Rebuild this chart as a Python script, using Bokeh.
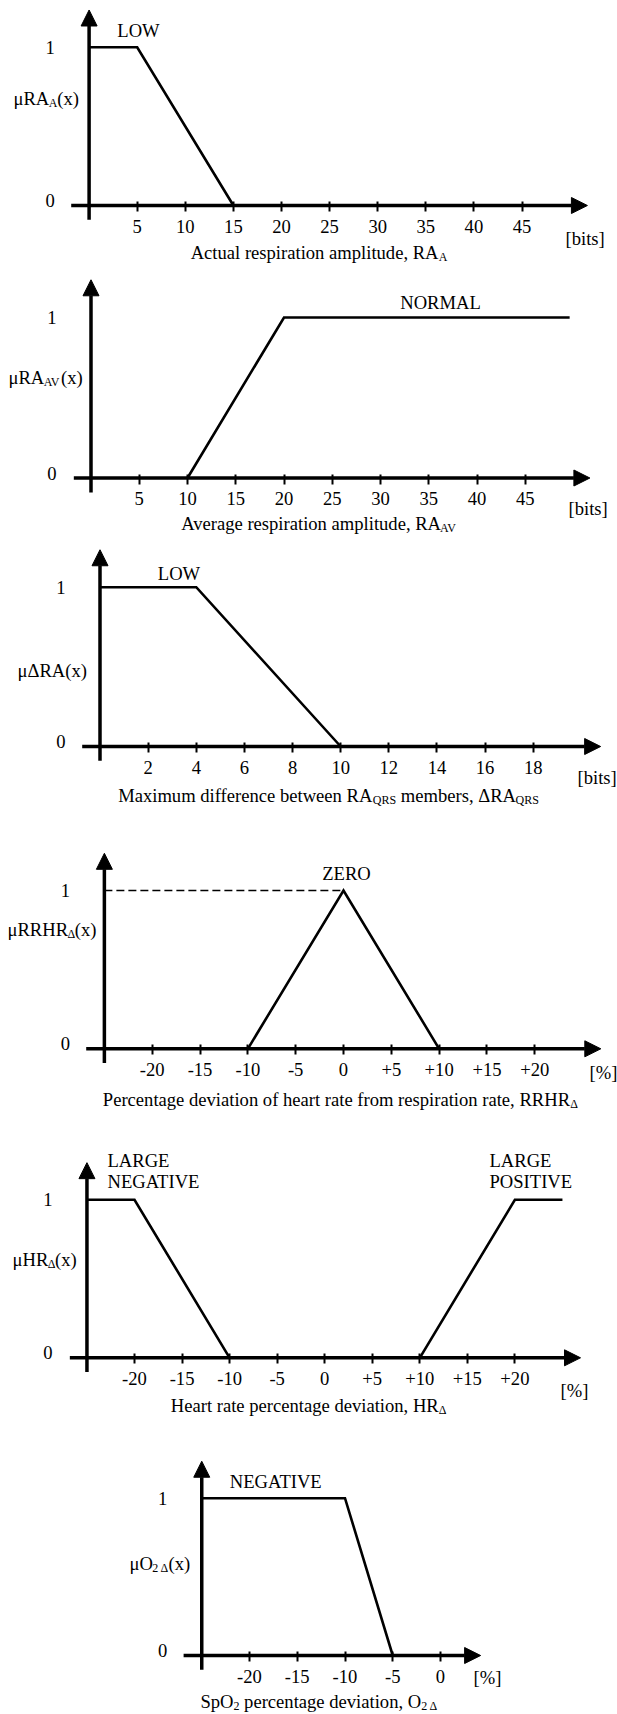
from bokeh.plotting import figure
from bokeh.models import Range1d, LinearAxis, FixedTicker, Arrow, NormalHead, Label, Grid
from bokeh.layouts import column
from bokeh.embed import file_html
from bokeh.resources import INLINE

FONT = "Liberation Serif"
FS = 18.6
SUB_FS = 12.0
W = 617
OX = 0  # page offset of the layout
BASE_OFF = 0.0

# ---------------- data ----------------
ra_a_x = [0, 5, 15]
ra_a_mu = [1, 1, 0]
ra_a_ticks = [5, 10, 15, 20, 25, 30, 35, 40, 45]

ra_av_x = [10, 20, 49.6]
ra_av_mu = [0, 1, 1]
ra_av_ticks = [5, 10, 15, 20, 25, 30, 35, 40, 45]

dra_x = [0, 4, 10]
dra_mu = [1, 1, 0]
dra_ticks = [2, 4, 6, 8, 10, 12, 14, 16, 18]

rrhr_x = [-10, 0, 10]
rrhr_mu = [0, 1, 0]
rrhr_ref_x = [-25, 0]
rrhr_ref_mu = [1, 1]

pct_ticks = [-20, -15, -10, -5, 0, 5, 10, 15, 20]
pct_labels = ["-20", "-15", "-10", "-5", "0", "+5", "+10", "+15", "+20"]

hr_neg_x = [-25, -20, -10]
hr_neg_mu = [1, 1, 0]
hr_pos_x = [10, 20, 25]
hr_pos_mu = [0, 1, 1]

o2_x = [-25, -10, -5]
o2_mu = [1, 1, 0]
o2_ticks = [-20, -15, -10, -5, 0]
o2_labels = ["-20", "-15", "-10", "-5", "0"]

# Times-compatible advance widths (per 1000 em)
WID = {" ": 250, ",": 250, "(": 333, ")": 333, "[": 333, "]": 333, "%": 833,
       "+": 564, "-": 333, "μ": 500, "Δ": 612}
for c in "0123456789":
    WID[c] = 500
WID.update(dict(zip("ABCDEFGHIJKLMNOPQRSTUVWXYZ",
                    [722, 667, 667, 722, 611, 556, 722, 722, 333, 389, 722, 611, 889,
                     722, 722, 556, 722, 667, 556, 611, 722, 722, 944, 722, 722, 611])))
WID.update(dict(zip("abcdefghijklmnopqrstuvwxyz",
                    [444, 500, 444, 500, 444, 333, 500, 500, 278, 278, 500, 278, 778,
                     500, 500, 500, 500, 333, 389, 278, 500, 500, 722, 500, 500, 444])))


def tw(t, fs):
    return sum(WID.get(c, 500) for c in t) * fs / 1000.0


class Panel:
    def __init__(self, top, height, x0p, xs, y0p, y1p):
        self.top, self.height, self.x0p, self.xs, self.y0p = top, height, x0p, xs, y0p
        self.ys = y0p - y1p
        self.xstart = -(x0p - OX) / xs
        self.xend = self.xstart + W / xs
        self.yend = (y0p - top) / self.ys
        self.ystart = self.yend - height / self.ys
        p = figure(width=W, height=height,
                   x_range=Range1d(self.xstart, self.xend),
                   y_range=Range1d(self.ystart, self.yend),
                   x_axis_location=None, y_axis_location=None,
                   toolbar_location=None, output_backend="svg",
                   min_border=0, outline_line_color=None, title_location=None)
        p.background_fill_color = "white"
        p.border_fill_color = "white"
        for g in p.select(type=Grid):
            g.visible = False
        p.center = [r for r in p.center if not isinstance(r, Grid)]
        self.p = p

    def d(self, px, py):
        return self.xstart + (px - OX) / self.xs, self.yend - (py - self.top) / self.ys

    def text(self, parts, px, py, align="left", sub_kern=0.0):
        if isinstance(parts, str):
            parts = [(parts, False)]
        widths = [tw(t, SUB_FS if s else FS) for t, s in parts]
        x = px - (sum(widths) / 2 if align == "center" else 0)
        for (t, s), w in zip(parts, widths):
            fs = SUB_FS if s else FS
            lead = len(t) - len(t.lstrip(" "))
            xs = x + tw(" " * lead, fs) + (sub_kern if s else 0.0)
            by = py + BASE_OFF + (4.0 if s else 0.0)
            dx, dy = self.d(xs, by)
            self.p.add_layout(Label(x=dx, y=dy, text=t.lstrip(" "), text_font=FONT,
                                    text_font_size=f"{fs}px",
                                    text_baseline="alphabetic", text_align="left",
                                    text_color="black"))
            x += w

    def axes(self, yax_x, x_lo, x_hi, ticks, labels=None, y_lo=-0.09, y_hi=1.235):
        p = self.p
        ax = LinearAxis(fixed_location=0, ticker=FixedTicker(ticks=ticks),
                        axis_line_color=None, major_tick_line_width=2,
                        major_tick_line_color="black",
                        major_tick_in=4, major_tick_out=6,
                        minor_tick_line_color=None,
                        major_label_text_font=FONT,
                        major_label_text_font_size=f"{FS}px",
                        major_label_text_color="black",
                        major_label_standoff=8)
        if labels:
            ax.major_label_overrides = {t: l for t, l in zip(ticks, labels)}
        p.add_layout(ax, "below")
        p.add_layout(Arrow(end=NormalHead(size=16, fill_color="black", line_color="black"),
                           x_start=x_lo, y_start=0, x_end=x_hi, y_end=0,
                           line_width=3.5, line_color="black"))
        p.add_layout(Arrow(end=NormalHead(size=16, fill_color="black", line_color="black"),
                           x_start=yax_x, y_start=y_lo, x_end=yax_x, y_end=y_hi,
                           line_width=3.5, line_color="black"))
        yx = self.x0p + yax_x * self.xs
        self.text("1", yx - 39, self.y0p - self.ys, align="center")
        self.text("0", yx - 39, self.y0p - 5, align="center")

    def line(self, x, y, dash="solid", width=2.6):
        self.p.line(x, y, line_width=width, line_color="black", line_dash=dash,
                    line_join="miter")


# ---------------- panel 1 ----------------
P1 = Panel(0, 268, 88.6, 9.62, 205, 46.7)
P1.axes(0, -1.86, 51.8, ra_a_ticks)
P1.line(ra_a_x, ra_a_mu)
P1.text("LOW", 138, 30, align="center")
P1.text([("μRA", False), ("A", True), ("(x)", False)], 13, 98)
P1.text("[bits]", 565, 238)
P1.text([("Actual respiration amplitude, RA", False), ("A", True)], 318.5, 252, align="center")

# ---------------- panel 2 ----------------
P2 = Panel(268, 270, 90.5, 9.65, 477.5, 317)
P2.axes(0, -1.78, 51.7, ra_av_ticks)
P2.line(ra_av_x, ra_av_mu)
P2.text("NORMAL", 440, 302, align="center")
P2.text([("μRA", False), ("AV", True), ("(x)", False)], 8, 377)
P2.text("[bits]", 568, 508)
P2.text([("Average respiration amplitude, RA", False), ("AV", True)], 320, 523,
        align="center", sub_kern=-2.5)

# ---------------- panel 3 ----------------
P3 = Panel(538, 282, 99.5, 24.07, 746, 586.7)
P3.axes(0, -0.74, 20.8, dra_ticks)
P3.line(dra_x, dra_mu)
P3.text("LOW", 178.5, 573, align="center")
P3.text("μΔRA(x)", 17, 670)
P3.text("[bits]", 577, 777)
P3.text([("Maximum difference between RA", False), ("QRS", True),
         (" members, ΔRA", False), ("QRS", True)], 328, 795, align="center")

# ---------------- panel 4 ----------------
P4 = Panel(820, 305, 343, 9.565, 1048.3, 890)
P4.axes(-25, -26.9, 26.9, pct_ticks, pct_labels)
P4.line(rrhr_ref_x, rrhr_ref_mu, dash="8 4", width=1.5)
P4.line(rrhr_x, rrhr_mu)
P4.text("ZERO", 346, 873, align="center")
P4.text([("μRRHR", False), ("Δ", True), ("(x)", False)], 7, 929)
P4.text("[%]", 589, 1072)
P4.text([("Percentage deviation of heart rate from respiration rate, RRHR", False), ("Δ", True)],
        339.7, 1099, align="center")

# ---------------- panel 5 ----------------
P5 = Panel(1125, 305, 324.2, 9.51, 1357.3, 1199.3)
P5.axes(-25, -26.8, 26.9, pct_ticks, pct_labels)
P5.line(hr_neg_x, hr_neg_mu)
P5.line(hr_pos_x, hr_pos_mu)
P5.text("LARGE", 107, 1160)
P5.text("NEGATIVE", 107, 1181)
P5.text("LARGE", 489, 1160)
P5.text("POSITIVE", 489, 1181)
P5.text([("μHR", False), ("Δ", True), ("(x)", False)], 12, 1259)
P5.text("[%]", 560, 1390)
P5.text([("Heart rate percentage deviation, HR", False), ("Δ", True)], 308, 1405, align="center")

# ---------------- panel 6 ----------------
P6 = Panel(1430, 284, 440, 9.55, 1655, 1497.7)
P6.axes(-25, -26.9, 4.2, o2_ticks, o2_labels)
P6.line(o2_x, o2_mu)
P6.text("NEGATIVE", 229.3, 1481)
P6.text([("μO", False), ("2 Δ", True), ("(x)", False)], 129, 1563)
P6.text("[%]", 473, 1677)
P6.text([("SpO", False), ("2", True), (" percentage deviation, O", False), ("2 Δ", True)],
        318.5, 1701, align="center")

layout = column(P1.p, P2.p, P3.p, P4.p, P5.p, P6.p, spacing=0)
open("out.html", "w").write(file_html(layout, INLINE))
